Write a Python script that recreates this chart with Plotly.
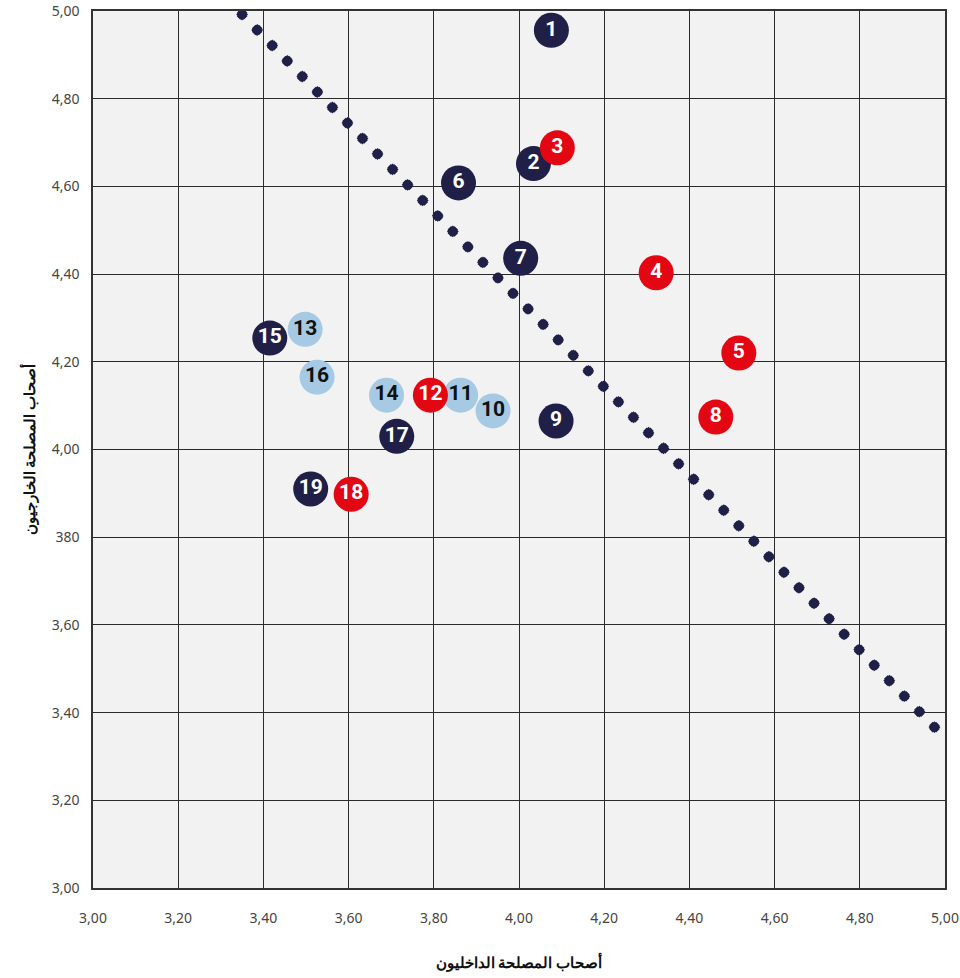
import plotly.graph_objects as go

# Data
labels = ["1", "2", "3", "4", "5", "6", "7", "8", "9", "10",
          "11", "12", "13", "14", "15", "16", "17", "18", "19"]
internal = [4.076, 4.034, 4.090, 4.322, 4.516, 3.858, 4.004, 4.462, 4.087, 3.939,
            3.863, 3.792, 3.498, 3.689, 3.415, 3.526, 3.713, 3.606, 3.511]
external = [4.956, 4.652, 4.688, 4.403, 4.220, 4.608, 4.436, 4.074, 4.065, 4.088,
            4.124, 4.124, 4.274, 4.124, 4.254, 4.165, 4.030, 3.898, 3.910]
groups = ["navy", "navy", "red", "red", "red", "navy", "navy", "red", "navy", "blue",
          "blue", "red", "blue", "blue", "navy", "blue", "navy", "red", "navy"]

# reference diagonal (dotted) line: from first dot to last dot
diag_x = [3.350, 4.978]
diag_y = [4.992, 3.364]

tick_vals = [3.0, 3.2, 3.4, 3.6, 3.8, 4.0, 4.2, 4.4, 4.6, 4.8, 5.0]
x_tick_text = ["3,00", "3,20", "3,40", "3,60", "3,80", "4,00", "4,20", "4,40", "4,60", "4,80", "5,00"]
y_tick_text = ["3,00", "3,20", "3,40", "3,60", "380", "4,00", "4,20", "4,40", "4,60", "4,80", "5,00"]

x_title = "أصحاب المصلحة الداخليون"
y_title = "أصحاب المصلحة الخارجيون"

colors = {"navy": "#1f1f47", "red": "#e30613", "blue": "#a6c9e4"}
text_colors = {"navy": "white", "red": "white", "blue": "#111111"}

fig = go.Figure()

# dotted line built from three overlapping dash patterns so each dot looks round
period = 21.6          # px between dot centres
px_to_data = 0.001636  # data units per px along this diagonal (both axes)
for length, width in [(10, 5), (5, 10), (8.4, 8.4)]:
    shift = (length / 2) * px_to_data
    fig.add_trace(go.Scatter(
        x=[diag_x[0] - shift, diag_x[1] + shift],
        y=[diag_y[0] + shift, diag_y[1] - shift],
        mode="lines",
        line=dict(color="#1f1f47", width=width,
                  dash=f"{length}px,{period - length}px"),
        hoverinfo="skip", showlegend=False, cliponaxis=False,
    ))

for g in ["blue", "navy", "red"]:
    idx = [i for i, gg in enumerate(groups) if gg == g]
    fig.add_trace(go.Scatter(
        x=[internal[i] for i in idx],
        y=[external[i] for i in idx],
        text=[labels[i] for i in idx],
        mode="markers+text",
        textposition="middle center",
        marker=dict(size=35, color=colors[g], line=dict(width=0)),
        textfont=dict(family="Roboto, sans-serif",
                      size=21, color=text_colors[g], weight="bold"),
        showlegend=False, cliponaxis=False,
    ))

axis_common = dict(
    range=[3, 5], tickvals=tick_vals, automargin=False,
    showgrid=True, gridcolor="#2a2a2a", gridwidth=1,
    showline=True, linecolor="#333333", linewidth=1.5, mirror=True,
    zeroline=False, ticks="", ticklabeloverflow="allow",
    tickfont=dict(family="Noto Sans, sans-serif", size=14, color="#444444"),
)

fig.update_xaxes(**axis_common, ticktext=x_tick_text, ticklabelstandoff=16,
                 title=dict(text=x_title, standoff=32,
                            font=dict(family="Noto Sans, sans-serif", size=15, color="#111111", weight="bold")))
fig.update_yaxes(**axis_common, ticktext=y_tick_text, ticklabelstandoff=9,
                 title=dict(text=y_title, standoff=12,
                            font=dict(family="Noto Sans, sans-serif", size=15, color="#111111", weight="bold")))

fig.update_layout(
    width=960, height=978,
    margin=dict(l=93, r=15, t=11, b=90),
    plot_bgcolor="#f2f2f2", paper_bgcolor="white",
    hovermode=False,
)

# remove the default page margin so the figure fills the window exactly
fig.write_html("out.html", config={"displayModeBar": False},
               post_script="document.body.style.margin='0';")
